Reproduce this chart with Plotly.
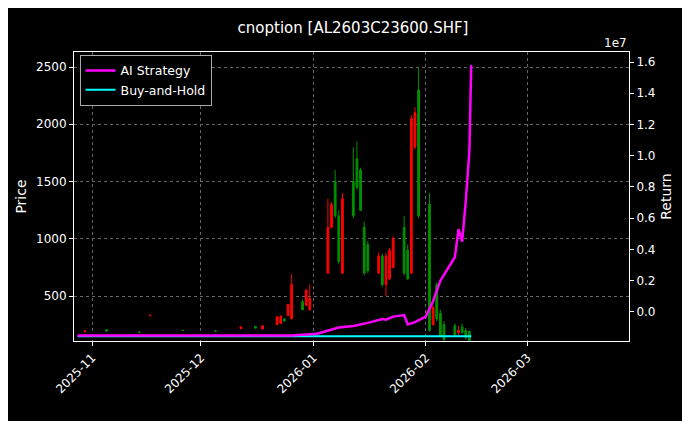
import plotly.graph_objects as go

dates = ['2025-10-30', '2025-11-05', '2025-11-14', '2025-11-17', '2025-11-26', '2025-12-05',
         '2025-12-12', '2025-12-16', '2025-12-18', '2025-12-22', '2025-12-23', '2025-12-24',
         '2025-12-25', '2025-12-26', '2025-12-29', '2025-12-30', '2025-12-31',
         '2026-01-05', '2026-01-06', '2026-01-07', '2026-01-08', '2026-01-09',
         '2026-01-12', '2026-01-13', '2026-01-14', '2026-01-15', '2026-01-16',
         '2026-01-19', '2026-01-20', '2026-01-21', '2026-01-22', '2026-01-23',
         '2026-01-26', '2026-01-27', '2026-01-28', '2026-01-29', '2026-01-30',
         '2026-02-02', '2026-02-03', '2026-02-04', '2026-02-05', '2026-02-06',
         '2026-02-09', '2026-02-10', '2026-02-11', '2026-02-12', '2026-02-13']
opens = [190, 205, 185, 328, 200, 195, 215, 235, 212, 250, 262, 300, 330, 300, 450, 420, 380,
         700, 1100, 1500, 1200, 700, 1500, 1700, 1600, 1100, 950, 700, 850, 600, 650, 750,
         1100, 900, 700, 1800, 2300, 1300, 250, 600, 350, 250, 240, 180, 230, 200, 190]
highs = [200, 208, 190, 335, 205, 200, 235, 238, 242, 320, 330, 305, 430, 690, 470, 560, 600,
         1350, 1320, 1600, 1250, 1400, 1800, 1850, 1620, 1150, 980, 880, 870, 880, 920, 1020,
         1200, 950, 2080, 2150, 2500, 1400, 420, 620, 380, 280, 260, 240, 260, 220, 200]
lows = [185, 190, 178, 325, 195, 188, 212, 215, 208, 245, 258, 278, 325, 300, 380, 410, 370,
        690, 1090, 1180, 780, 690, 1180, 1430, 1240, 680, 700, 690, 580, 500, 640, 740,
        680, 640, 690, 1780, 1180, 190, 240, 280, 140, 100, 150, 150, 170, 120, 100]
closes = [195, 192, 182, 332, 198, 192, 230, 220, 240, 318, 325, 282, 425, 600, 380, 550, 480,
          1100, 1300, 1200, 800, 1350, 1200, 1450, 1250, 700, 720, 850, 600, 850, 900, 1000,
          700, 650, 2050, 2100, 1200, 200, 400, 300, 150, 120, 160, 200, 180, 140, 110]

ret_dates = ['2025-10-28', '2025-12-26', '2026-01-02', '2026-01-08', '2026-01-12', '2026-01-16',
             '2026-01-20', '2026-01-21', '2026-01-23', '2026-01-26', '2026-01-27', '2026-01-29',
             '2026-02-01', '2026-02-03', '2026-02-05', '2026-02-09', '2026-02-10', '2026-02-11',
             '2026-02-12', '2026-02-13', '2026-02-13 12:00']
ai_ret = [-0.15e7, -0.15e7, -0.14e7, -0.10e7, -0.09e7, -0.07e7, -0.045e7, -0.05e7, -0.03e7,
          -0.02e7, -0.08e7, -0.065e7, -0.03e7, 0.07e7, 0.2e7, 0.35e7, 0.53e7, 0.45e7,
          0.71e7, 1.03e7, 1.58e7]
bh_dates = ['2025-10-28', '2026-02-13 12:00']
bh_ret = [-0.155e7, -0.155e7]

fig = go.Figure()
fig.add_trace(go.Candlestick(x=dates, open=opens, high=highs, low=lows, close=closes,
                             increasing=dict(line=dict(color='#ff0000', width=1), fillcolor='#ff0000'),
                             decreasing=dict(line=dict(color='#009000', width=1), fillcolor='#009000'),
                             whiskerwidth=0, showlegend=False))
fig.add_trace(go.Scatter(x=bh_dates, y=bh_ret, yaxis='y2', mode='lines', name='Buy-and-Hold',
                         line=dict(color='#00ffff', width=2)))
fig.add_trace(go.Scatter(x=ret_dates, y=ai_ret, yaxis='y2', mode='lines', name='AI Strategy',
                         line=dict(color='#ff00ff', width=2.5)))

grid = dict(showgrid=True, gridcolor='#666', griddash='dot', gridwidth=0.6)
fig.update_layout(
    width=690, height=421, paper_bgcolor='black', plot_bgcolor='black',
    font=dict(family='DejaVu Sans', color='white', size=12),
    title=dict(text='cnoption [AL2603C23600.SHF]', x=0.5, y=0.965, font=dict(size=15)),
    margin=dict(l=66, r=69, t=44, b=88),
    xaxis=dict(range=['2025-10-27', '2026-03-29'], rangeslider=dict(visible=False),
               tickvals=['2025-11-01', '2025-12-01', '2026-01-01', '2026-02-01', '2026-03-01'],
               ticktext=['2025-11', '2025-12', '2026-01', '2026-02', '2026-03'],
               tickangle=-45, ticks='outside', ticklen=4, tickcolor='white',
               showline=True, linecolor='white', mirror=True, zeroline=False, **grid),
    yaxis=dict(title=dict(text='Price', standoff=6), range=[107, 2631],
               tickvals=[500, 1000, 1500, 2000, 2500],
               ticks='outside', ticklen=4, tickcolor='white',
               showline=True, linecolor='white', mirror=True, zeroline=False, **grid),
    yaxis2=dict(title=dict(text='Return', standoff=6), overlaying='y', side='right',
                range=[-0.186e7, 1.664e7],
                tickvals=[i * 0.2e7 for i in range(9)],
                ticktext=['%.1f' % (i * 0.2) for i in range(9)],
                ticks='outside', ticklen=4, tickcolor='white', showgrid=False, zeroline=False),
    legend=dict(x=0.01, y=0.99, bgcolor='black', bordercolor='#aaa', borderwidth=1,
                traceorder='reversed', font=dict(size=12.5)),
    annotations=[dict(text='1e7', xref='paper', yref='paper', x=1.0, y=1.0, xanchor='right',
                      yanchor='bottom', showarrow=False, font=dict(size=12))],
)
fig.write_html('out.html')
